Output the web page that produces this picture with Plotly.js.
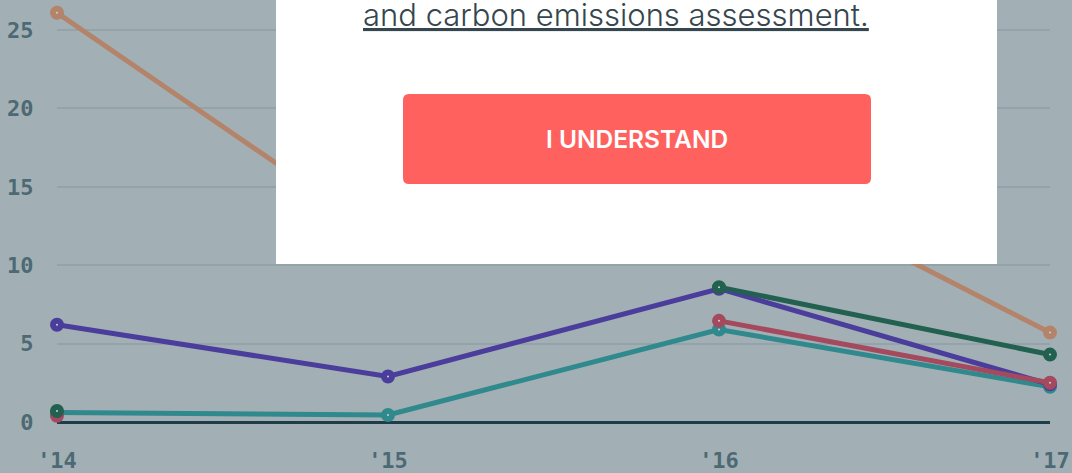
<!DOCTYPE html>
<html>
<head>
<meta charset="utf-8">
<script src="https://cdn.plot.ly/plotly-3.0.1.min.js"></script>
<style>
html,body{margin:0;padding:0;background:#a2b0b5;}
#chart{width:1072px;height:473px;}
</style>
</head>
<body>
<div id="chart"></div>
<script>
// ---- data ----
const years = [2014, 2015, 2016, 2017];
const yearLabels = ["'14", "'15", "'16", "'17"];
const yTicks = [0, 5, 10, 15, 20, 25];
const seriesTeal = [0.6, 0.45, 5.9, 2.25];
const seriesPurple = [6.2, 2.9, 8.5, 2.4];
const seriesRed = [0.4, null, 6.45, 2.5];
const seriesGreen = [0.7, null, 8.6, 4.3];
const seriesOrange = [26.1, 11.6, 16.5, 5.7];
const modalText = "and carbon emissions assessment.";
const buttonText = "I UNDERSTAND";

// ---- styles ----
const colors = {
  teal: '#2f898d',
  purple: '#4a3d9b',
  red: '#a4495e',
  green: '#22604f',
  orange: '#b3836a'
};

function trace(y, color) {
  return {
    x: years, y: y, type: 'scatter', mode: 'lines+markers',
    line: {color: color, width: 5},
    marker: {size: 8, color: '#c9d3d6', line: {color: color, width: 6}},
    cliponaxis: false, connectgaps: false, hoverinfo: 'skip', showlegend: false
  };
}

const data = [
  trace(seriesTeal, colors.teal),
  trace(seriesPurple, colors.purple),
  trace(seriesRed, colors.red),
  trace(seriesGreen, colors.green),
  trace(seriesOrange, colors.orange)
];

// plot area in pixels: x 57..1050, y 0..440
const L = 57, W = 993, H = 440;
const px = v => (v - L) / W;
const py = v => (H - v) / H;

function roundedRect(x0, y0, x1, y1, r) {
  const rx = r / W, ry = r / H;
  const X0 = px(x0), X1 = px(x1), Y0 = py(y1), Y1 = py(y0);
  return `M${X0+rx},${Y0} L${X1-rx},${Y0} Q${X1},${Y0} ${X1},${Y0+ry} L${X1},${Y1-ry} Q${X1},${Y1} ${X1-rx},${Y1} L${X0+rx},${Y1} Q${X0},${Y1} ${X0},${Y1-ry} L${X0},${Y0+ry} Q${X0},${Y0} ${X0+rx},${Y0} Z`;
}

const tickFont = {family: 'DejaVu Sans Mono', size: 22, color: '#4d6973', weight: 'bold'};

const layout = {
  width: 1072, height: 473,
  margin: {l: L, r: 1072 - L - W, t: 0, b: 473 - H, pad: 0},
  paper_bgcolor: '#a2b0b5', plot_bgcolor: '#a2b0b5',
  xaxis: {
    range: [2014, 2017], tickvals: years, ticktext: yearLabels,
    showgrid: false, zeroline: false, showline: false,
    ticks: 'outside', ticklen: 1, tickcolor: 'rgba(0,0,0,0)',
    tickfont: tickFont, fixedrange: true
  },
  yaxis: {
    range: [-18 / 15.68, 440 / 15.68 - 18 / 15.68], tickvals: yTicks,
    showgrid: true, gridcolor: '#94a3a9', gridwidth: 2,
    zeroline: true, zerolinecolor: '#1e3d48', zerolinewidth: 3,
    showline: false, ticks: 'outside', ticklen: 18, tickcolor: 'rgba(0,0,0,0)',
    tickfont: tickFont, fixedrange: true
  },
  shapes: [
    {type: 'rect', xref: 'paper', yref: 'paper', x0: px(276), x1: px(997), y0: py(264), y1: py(-10),
     fillcolor: '#ffffff', line: {width: 0}, layer: 'above'},
    {type: 'path', xref: 'paper', yref: 'paper', path: roundedRect(403, 94, 871, 184, 6),
     fillcolor: '#ff625e', line: {width: 0}, layer: 'above'}
  ],
  annotations: [
    {xref: 'paper', yref: 'paper', x: px(615.5), y: py(14), xanchor: 'center', yanchor: 'middle',
     text: '<u>' + modalText + '</u>', showarrow: false,
     font: {family: 'Inter', size: 31, color: '#35464e', weight: 300}},
    {xref: 'paper', yref: 'paper', x: px(637), y: py(139), xanchor: 'center', yanchor: 'middle',
     text: buttonText, showarrow: false,
     font: {family: 'Inter', size: 24.5, color: '#ffffff', weight: 600}}
  ]
};

Plotly.newPlot('chart', data, layout, {displayModeBar: false, staticPlot: true});
</script>
</body>
</html>
